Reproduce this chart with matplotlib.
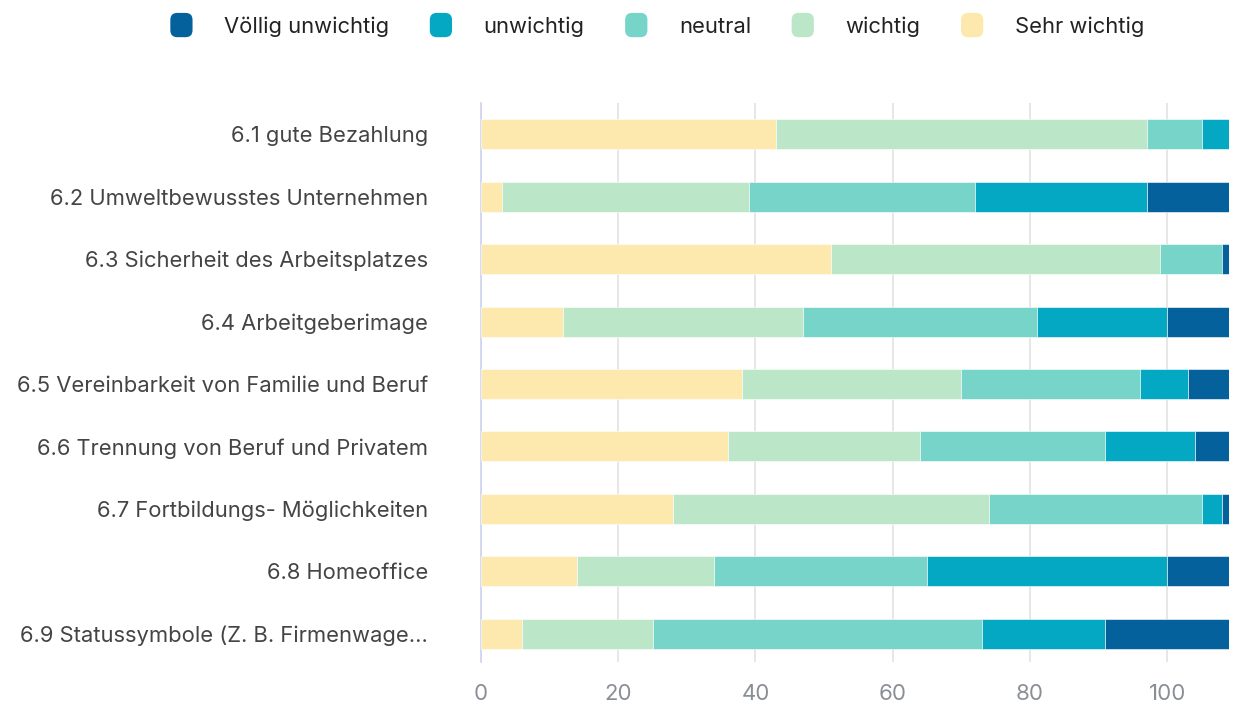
import matplotlib
matplotlib.use("Agg")
import matplotlib.pyplot as plt
from matplotlib.patches import FancyBboxPatch
from matplotlib.legend_handler import HandlerPatch

plt.rcParams['font.family'] = ['Inter', 'DejaVu Sans']

categories = [
    "6.1 gute Bezahlung",
    "6.2 Umweltbewusstes Unternehmen",
    "6.3 Sicherheit des Arbeitsplatzes",
    "6.4 Arbeitgeberimage",
    "6.5 Vereinbarkeit von Familie und Beruf",
    "6.6 Trennung von Beruf und Privatem",
    "6.7 Fortbildungs- Möglichkeiten",
    "6.8 Homeoffice",
    "6.9 Statussymbole (Z. B. Firmenwage...",
]

sehr_wichtig = [43, 3, 51, 12, 38, 36, 28, 14, 6]
wichtig = [54, 36, 48, 35, 32, 28, 46, 20, 19]
neutral = [8, 33, 9, 34, 26, 27, 31, 31, 48]
unwichtig = [4, 25, 0, 19, 7, 13, 3, 35, 18]
voellig_unwichtig = [0, 12, 1, 9, 6, 5, 1, 9, 18]

series = [
    ("Sehr wichtig", sehr_wichtig, "#fde9ae"),
    ("wichtig", wichtig, "#bbe7c8"),
    ("neutral", neutral, "#76d4c8"),
    ("unwichtig", unwichtig, "#04a8c2"),
    ("Völlig unwichtig", voellig_unwichtig, "#05619c"),
]


class RoundBoxHandler(HandlerPatch):
    def create_artists(self, legend, orig_handle, xdescent, ydescent,
                       width, height, fontsize, trans):
        w = 16
        h = 17.5
        x0 = -xdescent + (width - w) / 2
        y0 = -ydescent + (height - h) / 2
        p = FancyBboxPatch((x0, y0), w, h,
                           boxstyle="round,pad=0,rounding_size=5",
                           facecolor=orig_handle.get_facecolor(),
                           edgecolor="none", transform=trans)
        return [p]


fig = plt.figure(figsize=(12.38, 7.05), dpi=100)
ax = fig.add_axes([0.3885, 0.061, 0.6042, 0.793])

ypos = list(range(len(categories)))
left = [0] * len(categories)
handles = {}
for name, vals, color in series:
    bars = ax.barh(ypos, vals, left=left, height=0.48, color=color,
                   edgecolor="white", linewidth=0.4, zorder=3, label=name)
    handles[name] = bars[0]
    left = [a + b for a, b in zip(left, vals)]

ax.set_xlim(0, 109)
ax.set_ylim(8.45, -0.5)
ax.set_yticks(ypos)
ax.set_yticklabels(categories, fontsize=15.8, color="#444444")
ax.set_xticks([0, 20, 40, 60, 80, 100])
ax.tick_params(axis="x", labelsize=16, labelcolor="#8a8f96", length=0, pad=16)
ax.tick_params(axis="y", length=0, pad=38)
ax.grid(axis="x", color="#e3e3e3", linewidth=1.2, zorder=0)
for s in ["top", "right", "bottom"]:
    ax.spines[s].set_visible(False)
ax.spines["left"].set_color("#cdd3ec")
ax.spines["left"].set_linewidth(1.2)

order = ["Völlig unwichtig", "unwichtig", "neutral", "wichtig", "Sehr wichtig"]
fig.legend([handles[n] for n in order], order, loc="upper center",
           bbox_to_anchor=(0.531, 1.005), ncol=5, frameon=False, fontsize=15.8,
           handlelength=1.0, handletextpad=1.45, columnspacing=1.85,
           handler_map={matplotlib.patches.Rectangle: RoundBoxHandler()},
           labelcolor="#222222")

fig.savefig("out.png", dpi=100)
